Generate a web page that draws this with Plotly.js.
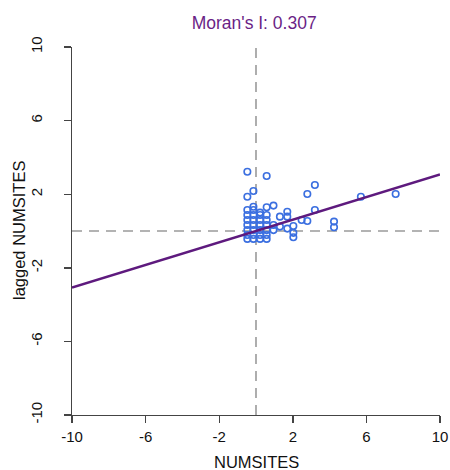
<!DOCTYPE html>
<html>
<head>
<meta charset="utf-8">
<script src="https://cdn.plot.ly/plotly-3.0.1.min.js"></script>
<style>html,body{margin:0;padding:0;background:#fff;}#chart{width:450px;height:470px;}</style>
</head>
<body>
<div id="chart"></div>
<script>
// Standardized NUMSITES (x) and spatially lagged NUMSITES (y)
const numsites = [
  -0.47,-0.47,-0.47,-0.47,-0.47,-0.47,-0.47,-0.47,-0.47,
  -0.14,-0.14,-0.14,-0.14,-0.14,-0.14,-0.14,-0.14,-0.14,
  0.22,0.22,0.22,0.22,0.22,0.22,0.22,
  0.58,0.58,0.58,0.58,0.58,0.58,0.58,0.58,
  0.95,0.95,0.95,
  1.30,1.30,
  1.70,1.70,1.70,
  2.03,2.03,2.03,
  2.48,
  2.79,2.79,
  3.20,3.20,
  4.24,4.24,
  5.70,
  7.59
];
const laggedNumsites = [
  3.22,1.86,1.14,0.87,0.60,0.33,0.05,-0.22,-0.43,
  2.17,1.32,1.14,0.87,0.60,0.33,0.05,-0.22,-0.43,
  1.00,0.87,0.60,0.33,0.05,-0.22,-0.43,
  2.99,1.29,0.87,0.60,0.33,0.05,-0.22,-0.43,
  1.38,0.33,0.05,
  0.78,0.24,
  1.05,0.78,0.13,
  0.27,-0.10,-0.34,
  0.60,
  2.01,0.54,
  2.50,1.14,
  0.51,0.20,
  1.86,
  2.01
];
const moransI = 0.307;
const axisRange = [-10, 10];
const tickVals = [-10, -6, -2, 2, 6, 10];
const tickLabels = ['-10', '-6', '-2', '2', '6', '10'];
const meanLine = [0, 0];
const xTitle = 'NUMSITES';
const yTitle = 'lagged NUMSITES';

const fitX = axisRange.slice();
const fitY = fitX.map(v => moransI * v);

const traces = [
  {x: meanLine, y: axisRange, mode: 'lines', line: {color: '#9a9a9a', width: 1.6, dash: '10px,7px'}, hoverinfo: 'skip'},
  {x: axisRange, y: meanLine, mode: 'lines', line: {color: '#9a9a9a', width: 1.6, dash: '10px,7px'}, hoverinfo: 'skip'},
  {x: numsites, y: laggedNumsites, mode: 'markers', type: 'scatter',
   marker: {symbol: 'circle-open', size: 6.5, color: '#3b6fe0', line: {width: 1.6, color: '#3b6fe0'}}},
  {x: fitX, y: fitY, mode: 'lines', line: {color: '#5e1a7e', width: 2.6}}
];

const fam = 'Liberation Sans, Arial, sans-serif';
const tickFont = {family: fam, size: 15, color: '#111'};
const titleFont = {family: fam, size: 16.5, color: '#111'};
const layout = {
  width: 450, height: 470,
  margin: {l: 72, r: 10, t: 47, b: 55},
  showlegend: false,
  paper_bgcolor: '#fff', plot_bgcolor: '#fff',
  title: {text: "Moran's I: " + moransI.toFixed(3), xref: 'paper', x: 0.495, xanchor: 'center',
          yref: 'container', y: 0.951, yanchor: 'middle',
          font: {family: fam, size: 17.5, color: '#6b1f86'}},
  xaxis: {range: axisRange, tickvals: tickVals, ticktext: tickLabels, ticks: 'outside', ticklen: 7, tickwidth: 1.4, tickcolor: '#444',
          showline: true, linecolor: '#444', linewidth: 1.4, showgrid: false, zeroline: false,
          tickfont: tickFont, ticklabelstandoff: 1},
  yaxis: {range: axisRange, tickvals: tickVals, ticktext: tickLabels, ticks: 'outside', ticklen: 7, tickwidth: 1.4, tickcolor: '#444',
          showline: true, linecolor: '#444', linewidth: 1.4, showgrid: false, zeroline: false,
          tickangle: -90, tickfont: tickFont, ticklabelstandoff: 16},
  annotations: [
    {text: xTitle, xref: 'paper', yref: 'paper', x: 0.5, y: 0, xanchor: 'center', yanchor: 'middle',
     yshift: -47, showarrow: false, font: titleFont},
    {text: yTitle, xref: 'paper', yref: 'paper', x: 0, y: 0.5, xanchor: 'center', yanchor: 'middle',
     xshift: -53, textangle: -90, showarrow: false, font: titleFont}
  ]
};
Plotly.newPlot('chart', traces, layout, {displayModeBar: false, staticPlot: true});
</script>
</body>
</html>
